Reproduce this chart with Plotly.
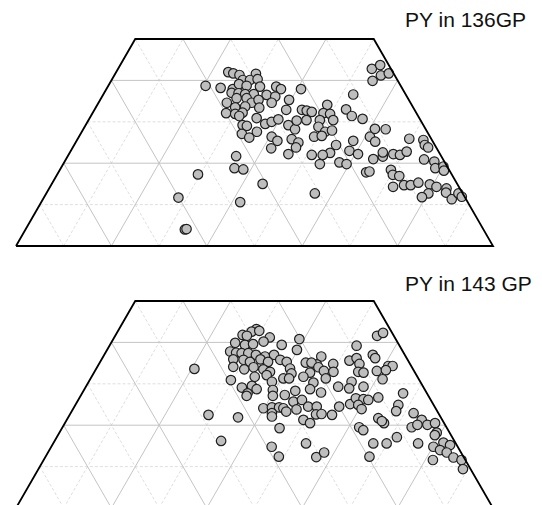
import numpy as np
import plotly.graph_objects as go

# ---------------- data (ternary compositions, %) ----------------
# A = component at the (truncated) top apex, B = component at the right apex, C = 100 - A - B
top_title = "PY in 136GP"
top_A = [42.0, 41.7, 41.3, 41.6, 40.1, 40.1, 40.3, 38.7, 38.2, 37.9, 39.1, 38.7, 38.5, 38.5, 37.9, 37.9,
         37.0, 36.9, 36.7, 36.7, 36.5, 36.1, 35.7, 35.7, 34.6, 34.6, 35.3, 34.6, 35.3, 33.5, 33.7, 33.4,
         32.1, 31.9, 32.2, 30.9, 31.4, 32.9, 32.9, 32.7, 32.4, 29.5, 30.0, 30.6, 29.2, 28.2, 30.3, 30.4,
         29.2, 29.0, 27.1, 26.2, 27.6, 26.4, 25.4, 23.6, 25.8, 25.0, 23.8, 22.2, 21.7, 18.8, 18.5, 17.3,
         15.0, 11.7, 10.6, 4.0, 4.1,
         42.8, 43.7, 41.2, 41.7, 39.9, 36.6, 34.1, 32.1, 31.9, 33.0, 31.4, 30.7, 30.4, 30.4, 28.8, 27.6,
         27.9, 26.4, 26.6, 24.4, 22.5, 22.0, 22.0, 19.8, 20.2, 19.8, 23.0, 22.2, 25.4, 26.4, 25.2, 28.3,
         28.2, 21.0, 21.6, 22.6, 22.2, 22.0, 22.8, 25.9, 25.6, 24.4, 23.8, 20.9, 20.4, 18.8, 19.2, 18.2,
         17.8, 18.0, 18.4, 17.2, 16.9, 14.3, 14.7, 14.7, 15.3, 14.9, 14.3, 13.9, 12.7, 11.8, 12.9, 11.3,
         12.7, 11.9, 12.7]
top_B = [23.5, 24.7, 26.2, 29.5, 27.5, 29.0, 30.5, 20.4, 23.8, 26.5, 27.2, 29.0, 31.9, 35.3, 36.6, 40.8,
         26.7, 28.2, 29.7, 31.5, 34.3, 36.3, 30.5, 28.4, 26.9, 32.1, 33.2, 36.3, 39.6, 29.2, 31.2, 34.3,
         28.0, 30.0, 31.4, 35.0, 31.1, 40.2, 43.5, 44.6, 45.8, 37.5, 38.6, 39.7, 42.5, 44.4, 43.7, 45.7,
         32.9, 33.9, 33.8, 35.8, 36.7, 40.4, 42.1, 41.7, 44.9, 46.7, 46.8, 46.0, 35.3, 36.4, 38.4, 29.5,
         44.2, 28.2, 41.7, 33.4, 33.7,
         53.2, 54.5, 55.9, 57.3, 54.8, 52.4, 48.2, 48.4, 49.9, 52.7, 54.7, 57.3, 48.5, 51.3, 49.0, 51.0,
         52.3, 49.3, 50.8, 54.9, 54.6, 53.3, 51.0, 53.8, 57.7, 59.4, 58.4, 60.6, 58.0, 61.0, 62.7, 61.1,
         63.4, 64.4, 66.1, 65.6, 68.0, 69.5, 70.5, 69.5, 72.6, 73.5, 74.5, 75.1, 77.5, 78.5, 80.0, 80.6,
         64.5, 65.1, 69.4, 70.4, 71.9, 71.9, 74.0, 75.4, 76.7, 79.3, 81.0, 83.3, 80.1, 79.2, 83.7, 85.7,
         86.4, 87.5, 56.3]

bottom_title = "PY in 143 GP"
bottom_A = [43.2, 42.6, 42.8, 41.8, 41.6, 41.2, 40.2, 39.9, 39.4, 39.6, 39.4, 40.8, 37.8, 37.5, 37.4, 37.4,
            37.0, 36.6, 37.0, 35.9, 35.8, 35.3, 35.9, 35.3, 35.8, 35.3, 38.2, 34.1, 33.5, 34.0, 33.5, 32.9,
            33.7, 32.5, 33.6, 30.9, 31.7, 32.1, 30.5, 31.3, 31.3, 29.1, 29.5, 28.7, 28.5, 27.7, 27.1, 27.1,
            27.3, 28.3, 25.7, 24.1, 24.3, 24.3, 24.1, 23.3, 22.9, 22.1, 23.8, 22.5, 21.9, 19.3, 16.2, 14.8,
            12.4,
            41.6, 42.3, 39.2, 36.6, 35.1, 35.6, 36.2, 34.8, 37.0, 36.2, 34.3, 34.3, 34.8, 34.7, 35.1, 34.0,
            33.1, 32.9, 32.7, 31.7, 31.3, 32.9, 32.7, 33.1, 33.3, 31.1, 30.3, 28.7, 29.3, 30.5, 28.9, 29.3,
            27.9, 26.1, 24.5, 24.5, 24.5, 25.1, 26.5, 26.3, 26.1, 24.9, 23.9, 26.7, 27.7, 24.9, 23.4, 22.6,
            22.7, 22.5, 21.3, 20.5, 21.7, 20.5, 21.0, 19.5, 18.8, 22.9, 21.3, 20.1, 20.5, 19.5, 20.1, 18.2,
            17.6, 15.6, 15.6, 15.6, 17.1, 15.6, 15.8, 15.2, 14.8, 14.0, 13.4, 12.2, 12.3, 13.4, 12.4, 11.6,
            11.6, 9.4]
bottom_B = [28.8, 28.1, 29.6, 26.6, 27.6, 32.6, 31.8, 26.0, 28.3, 29.9, 36.0, 39.0, 26.0, 27.4, 28.6, 30.0,
            31.8, 33.9, 35.6, 27.6, 29.8, 31.4, 33.3, 35.2, 37.5, 39.1, 39.8, 28.5, 31.1, 32.8, 35.1, 36.8,
            40.6, 41.5, 20.6, 29.6, 34.2, 36.5, 38.4, 40.4, 41.6, 32.8, 34.7, 36.1, 39.6, 34.7, 34.8, 40.3,
            42.7, 44.4, 45.3, 39.8, 41.5, 43.0, 44.0, 45.0, 42.2, 42.6, 46.9, 29.1, 35.6, 45.6, 34.9, 46.2,
            48.9,
            54.9, 55.8, 51.8, 45.7, 43.2, 52.1, 53.3, 54.6, 56.3, 57.2, 60.9, 61.8, 49.1, 45.7, 44.4, 46.4,
            48.0, 50.1, 45.3, 44.4, 49.3, 55.3, 56.5, 59.1, 60.9, 61.3, 47.2, 47.3, 52.9, 55.1, 55.4, 58.2,
            50.0, 46.9, 49.0, 50.8, 55.5, 57.5, 58.0, 59.7, 60.8, 59.3, 60.5, 62.6, 67.3, 67.7, 68.0, 51.6,
            52.7, 55.0, 49.6, 51.4, 65.1, 66.9, 66.2, 62.2, 63.4, 71.9, 74.4, 76.2, 77.6, 73.2, 74.1, 79.1,
            79.0, 53.0, 67.1, 69.9, 71.3, 76.5, 81.7, 83.4, 80.1, 81.9, 83.6, 85.6, 56.8, 57.9, 67.9, 81.6,
            87.6, 89.0]

A_max = 50.0                                   # truncation of the top component
major_ticks = [20, 40, 60, 80]
minor_ticks = [10, 30, 50, 70, 90]


# ---------------- ternary -> cartesian projection ----------------
def proj(A, B):
    A = np.asarray(A, float) / 100.0
    B = np.asarray(B, float) / 100.0
    return B + A / 2.0, A


def grid_lines(ticks):
    xs, ys = [], []
    amax = A_max / 100.0
    for t in ticks:
        t = t / 100.0
        if t < amax:                       # constant A (horizontal)
            xs += [t / 2, 1 - t / 2, None]
            ys += [t, t, None]
        top = min(amax, 1 - t)
        xs += [t, t + top / 2, None]       # constant B
        ys += [0, top, None]
        xs += [1 - t, 1 - t - top / 2, None]   # constant C
        ys += [0, top, None]
    return xs, ys


fig = go.Figure()

panels = [
    (top_A, top_B, "x", "y"),
    (bottom_A, bottom_B, "x2", "y2"),
]
amax = A_max / 100.0
for A, B, xa, ya in panels:
    gx, gy = grid_lines(minor_ticks)
    fig.add_trace(go.Scatter(x=gx, y=gy, mode="lines", xaxis=xa, yaxis=ya, hoverinfo="skip",
                             line=dict(color="#d6d6d6", width=0.8, dash="3px,2px"), showlegend=False))
    gx, gy = grid_lines(major_ticks)
    fig.add_trace(go.Scatter(x=gx, y=gy, mode="lines", xaxis=xa, yaxis=ya, hoverinfo="skip",
                             line=dict(color="#c4c4c4", width=1), showlegend=False))
    px, py = proj(A, B)
    fig.add_trace(go.Scatter(x=px, y=py, mode="markers", xaxis=xa, yaxis=ya, showlegend=False,
                             marker=dict(size=9.5, color="#bebebe",
                                         line=dict(color="#1e1e1e", width=1.2))))
    fig.add_trace(go.Scatter(x=[0, amax / 2, 1 - amax / 2, 1, 0], y=[0, amax, amax, 0, 0],
                             mode="lines", xaxis=xa, yaxis=ya, hoverinfo="skip", showlegend=False,
                             line=dict(color="black", width=1.8)))

# page body has an 8px default margin: the figure is drawn in the remaining area
OFF = 8
W, H = 542 - OFF, 505 - OFF
x0_px, x1_px = 16 - OFF, 493 - OFF     # base of the full triangle (figure pixels)
ppu_x = x1_px - x0_px
xr = [-x0_px / ppu_x, (W - x0_px) / ppu_x]
ppu_y = 414.0
top_base_px, bot_base_px = 246.0 - OFF, 508.0 - OFF
split = 0.5

axis_off = dict(visible=False, showgrid=False, zeroline=False, fixedrange=True)
fig.update_layout(
    width=W, height=H,
    margin=dict(l=0, r=0, t=0, b=0),
    paper_bgcolor="white", plot_bgcolor="white",
    xaxis=dict(range=xr, domain=[0, 1], anchor="y", **axis_off),
    yaxis=dict(domain=[split, 1], anchor="x",
               range=[(top_base_px - H * (1 - split)) / ppu_y, top_base_px / ppu_y], **axis_off),
    xaxis2=dict(range=xr, domain=[0, 1], anchor="y2", **axis_off),
    yaxis2=dict(domain=[0, split], anchor="x2",
                range=[(bot_base_px - H) / ppu_y, (bot_base_px - H * (1 - split)) / ppu_y], **axis_off),
    font=dict(family="Liberation Sans, Arial, sans-serif", color="#111"),
    annotations=[
        dict(text=top_title, x=(403 - OFF) / W, y=1 - (19.5 - OFF) / H, xref="paper", yref="paper",
             xanchor="left", yanchor="middle", showarrow=False, font=dict(size=21, color="#111")),
        dict(text=bottom_title, x=(403 - OFF) / W, y=1 - (283 - OFF) / H, xref="paper", yref="paper",
             xanchor="left", yanchor="middle", showarrow=False, font=dict(size=21, color="#111")),
    ],
)

fig.write_html("out.html")
